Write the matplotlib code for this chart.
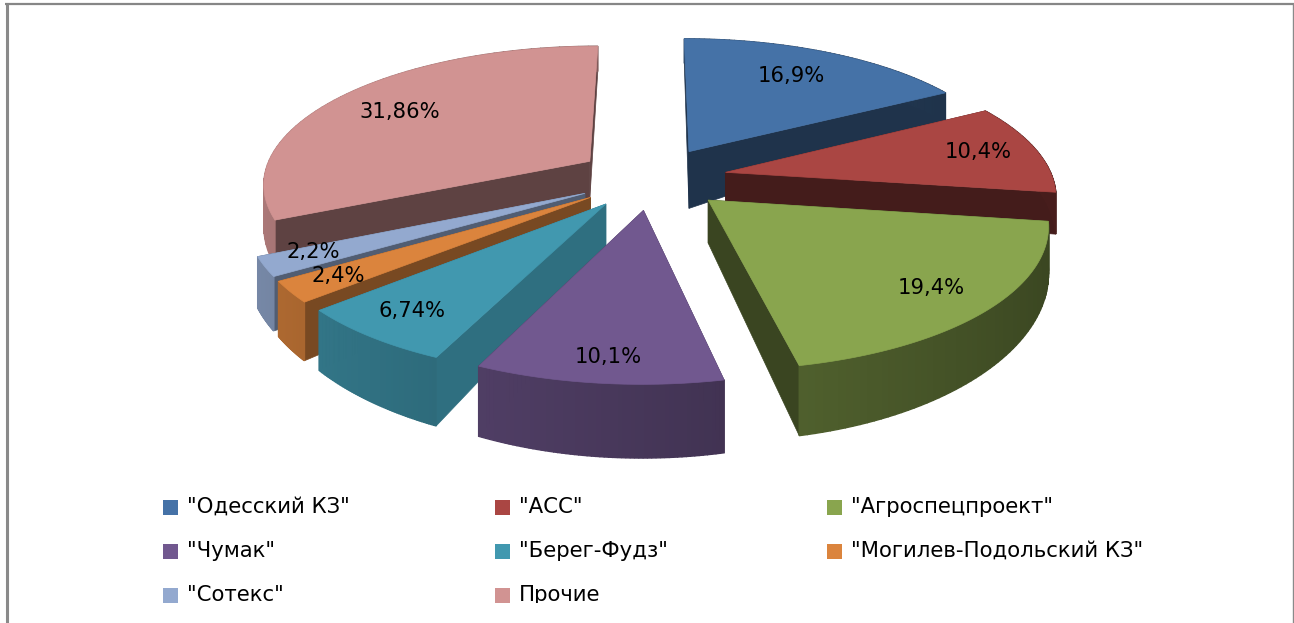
import numpy as np
import matplotlib
matplotlib.use('Agg')
import matplotlib.pyplot as plt
from matplotlib.patches import Rectangle, Polygon
from matplotlib.colors import to_rgb

names = ['"Одесский КЗ"', '"АСС"', '"Агроспецпроект"', '"Чумак"', '"Берег-Фудз"',
         '"Могилев-Подольский КЗ"', '"Сотекс"', 'Прочие']
shares = [16.9, 10.4, 19.4, 10.1, 6.74, 2.4, 2.2, 31.86]
share_labels = ['16,9%', '10,4%', '19,4%', '10,1%', '6,74%', '2,4%', '2,2%', '31,86%']
colors = ['#4572A7', '#AA4643', '#89A54E', '#71588F', '#4198AF', '#DB843D', '#93A9CF', '#D19392']

# how dark the flat cut faces are, per slice
cut_dark = [0.45, 0.40, 0.42, 0.55, 0.73, 0.55, 0.55, 0.45]
# the blue slice has a taller face at the centre in the source
apex_depth = [1.55, 1, 1, 1, 1, 1, 1, 1]
label_xy = [(791, 76), (978, 152), (931, 288), (608, 357), (412, 311), (338, 276), (313, 252), (400, 112)]
legend_xy = [(163, 507), (495, 507), (827, 507), (163, 551), (495, 551), (827, 551), (163, 595), (495, 595)]

# pie geometry in pixels
cx, cy = 652, 178
rx, ry = 327, 137
explode = 0.23
persp = 0.15
height = 40


def project(X, Y, down):
    w = 1 + persp * Y
    return cx + rx * X / w, cy - ry * Y / w + down * height / w ** 3


def shade(col, f):
    return tuple(np.array(to_rgb(col)) * f)


fig = plt.figure(figsize=(12.94, 6.23), dpi=100)
ax = fig.add_axes([0, 0, 1, 1])
ax.set_xlim(0, 1294)
ax.set_ylim(623, 0)
ax.axis('off')

# frame is cut off at the bottom in the source
ax.plot([6.5, 6.5], [623, 3], color='#8A8A8A', lw=2.2, solid_capstyle='butt')
ax.plot([5, 1294], [4, 4], color='#868686', lw=1.6, solid_capstyle='butt')
ax.plot([1293.3, 1293.3], [3, 623], color='#8A8A8A', lw=1.0, solid_capstyle='butt')

edges = np.concatenate([[0], np.cumsum(shares)]) / sum(shares) * 2 * np.pi
draw_order = [0, 1, 7, 6, 5, 4, 3, 2]

for z, i in enumerate(draw_order):
    t0, t1 = edges[i], edges[i + 1]
    mid = (t0 + t1) / 2
    ox, oy = explode * np.sin(mid), explode * np.cos(mid)
    th = np.linspace(t0, t1, 60)
    X = ox + np.sin(th)
    Y = oy + np.cos(th)
    col = colors[i]
    base = 10 + z * 3

    cut = shade(col, cut_dark[i])
    for a in (0, -1):
        face = [project(ox, oy, 0), project(X[a], Y[a], 0), project(X[a], Y[a], 1), project(ox, oy, apex_depth[i])]
        ax.add_patch(Polygon(face, closed=True, fc=cut, ec=cut, lw=0.5, zorder=base))

    # outer wall, a strip of small quads so the shade can change
    for j in range(len(th) - 1):
        f = 0.62 - 0.2 * np.sin((th[j] + th[j + 1]) / 2)
        q = [project(X[j], Y[j], 0), project(X[j + 1], Y[j + 1], 0),
             project(X[j + 1], Y[j + 1], 1), project(X[j], Y[j], 1)]
        ax.add_patch(Polygon(q, closed=True, fc=shade(col, f), ec=shade(col, f), lw=1.0, zorder=base + 1))

    top = [project(ox, oy, 0)] + [project(a, b, 0) for a, b in zip(X, Y)]
    ax.add_patch(Polygon(top, closed=True, fc=col, ec=col, lw=0.5, zorder=base + 2))

for lab, (x, y) in zip(share_labels, label_xy):
    ax.text(x, y, lab, fontsize=15.2, color='black', ha='center', va='center', zorder=60)

clip = Rectangle((0, 0), 1294, 603, transform=ax.transData)
for name, col, (x, y) in zip(names, colors, legend_xy):
    ax.add_patch(Rectangle((x, y - 7), 15, 15, fc=col, ec='none'))
    t = ax.text(x + 24, y, name, fontsize=15.3, color='black', ha='left', va='center')
    t.set_clip_path(clip)
    t.set_clip_on(True)

fig.savefig('out.png', dpi=100)
